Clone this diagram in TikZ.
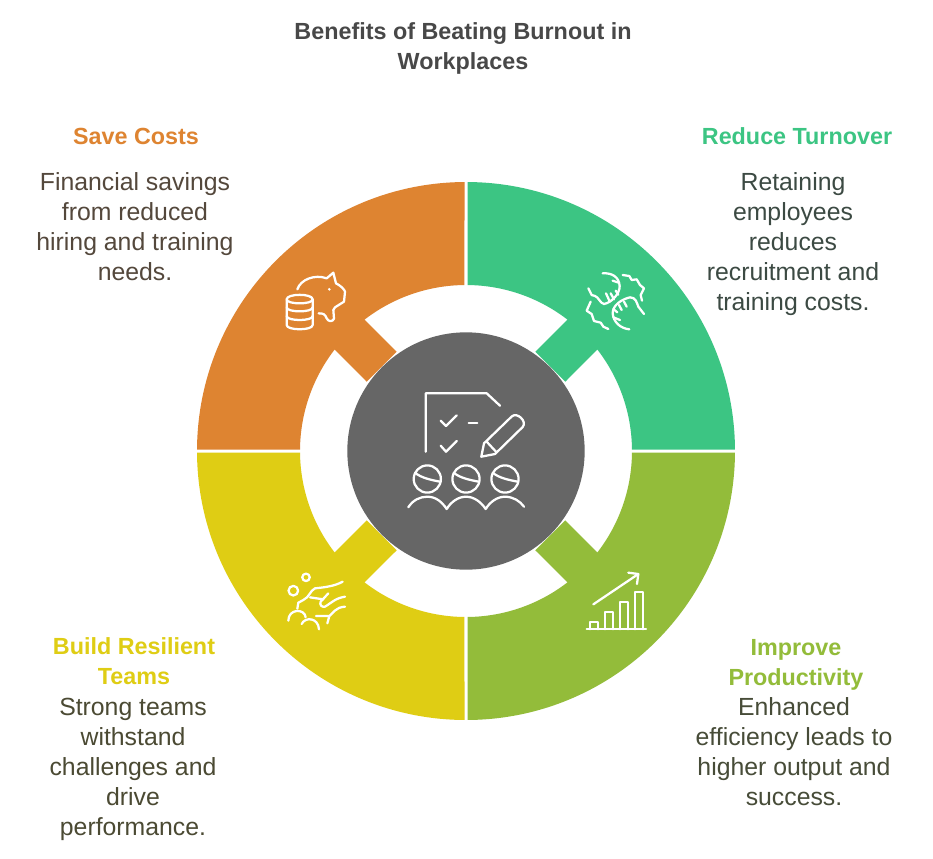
\documentclass[tikz,border=0pt]{standalone}
\usepackage{fontspec}
\setmainfont{Liberation Sans}
\definecolor{cOrange}{HTML}{DE8431}
\definecolor{cGreen}{HTML}{3CC583}
\definecolor{cLime}{HTML}{93BC3A}
\definecolor{cYellow}{HTML}{DFCD14}
\definecolor{cGrey}{HTML}{666666}
\definecolor{cText}{HTML}{484848}
\definecolor{bOrange}{HTML}{54483C}
\definecolor{bGreen}{HTML}{3C4A43}
\definecolor{bLime}{HTML}{474C38}
\definecolor{bYellow}{HTML}{4B4A33}
\newcommand{\sectorpath}{(89.68:269) arc[start angle=89.68,end angle=0.32,radius=201.75pt]
  -- (0.52:166) arc[start angle=0.52,end angle=37.7,radius=124.5pt]
  -- (99.3,69.3) -- (69.3,99.3) -- (52.3:166) arc[start angle=52.3,end angle=89.48,radius=124.5pt] -- cycle}
\tikzset{
 px/.style={x=0.75pt,y=-0.75pt},
 bodytext/.style={font=\fontsize{18.6pt}{22.5pt}\selectfont,align=center,inner sep=0pt},
 headtext/.style={font=\fontsize{17.5pt}{22.5pt}\selectfont\bfseries,align=center,inner sep=0pt},
 titletext/.style={font=\fontsize{17.5pt}{22.5pt}\selectfont\bfseries,align=center,text=cText,inner sep=0pt},
 icon/.style={draw=white,line width=1.7pt,line cap=round,line join=round},
}
\begin{document}
\begin{tikzpicture}[px]
\useasboundingbox (0,0) rectangle (933,858);
\fill[white] (0,0) rectangle (933,858);
% sectors
\begin{scope}[shift={(466,451)},x=.75pt,y=.75pt]
 \fill[cGreen] \sectorpath;
 \fill[cOrange,rotate=90] \sectorpath;
 \fill[cYellow,rotate=180] \sectorpath;
 \fill[cLime,rotate=270] \sectorpath;
\end{scope}
\node[circle,fill=cGrey,minimum size=178pt,inner sep=0pt] (hub) at (466,451) {};
% centre icon
\draw[icon] (425.7,451.7) -- (425.7,393.3) -- (486.7,393.3) -- (500,405.7);
\draw[icon] (440.7,420.7) -- (446,426) -- (456.7,415.3);
\draw[icon] (468.7,423.3) -- (477.3,423.3);
\draw[icon] (440.7,445.7) -- (446,451.7) -- (456.7,441);
\draw[icon] (481.3,456.7) -- (484,443.3) -- (511.7,416.5) .. controls (517,411.5) and (527.5,421.5) .. (522.7,427) -- (495,454) -- cycle;
\draw[icon] (486.7,441.7) -- (496,451.7);
\foreach \cx in {427.3,466,505}{
 \draw[icon] (\cx,479) circle[radius=10.2pt];
 \draw[icon] (\cx-12.3,472.7) .. controls (\cx-6,478) and (\cx+4,480) .. (\cx+12.8,481.7);
}
\draw[icon] (408.3,507.3) .. controls (413,500) and (420,496.7) .. (427.3,496.7) .. controls (436,496.7) and (442,502) .. (446.7,509)
  .. controls (451,502) and (458,496.7) .. (466,496.7) .. controls (474,496.7) and (481,502) .. (485.7,509)
  .. controls (490,502) and (497,496.7) .. (505,496.7) .. controls (513,496.7) and (520,501) .. (524,506.7);
% piggy bank icon
\begin{scope}[shift={(270,260)},x=.25pt,y=-.25pt]
 \draw[icon] (50,118) .. controls (50,100) and (128,100) .. (128,118) -- (128,195) .. controls (128,212) and (50,212) .. (50,195) -- cycle;
 \draw[icon] (50,118) .. controls (50,134) and (128,134) .. (128,118);
 \draw[icon] (50,142) .. controls (50,158) and (128,158) .. (128,142);
 \draw[icon] (50,168) .. controls (50,184) and (128,184) .. (128,168);
 \draw[icon] (82,88) .. controls (92,58) and (135,42) .. (170,55) -- (190,38) -- (198,70) .. controls (210,75) and (225,90) .. (225,95) -- (222,125) -- (195,142) -- (190,150) -- (192,176) .. controls (188,186) and (175,186) .. (170,175) .. controls (165,162) and (160,160) .. (146,160);
 \fill[white] (178,88) circle[radius=1.1pt];
\end{scope}
% hands icon
\begin{scope}[shift={(570,260)},x=.25pt,y=-.25pt]
 \draw[icon] (98,40) .. controls (125,38) and (147,50) .. (149,78) .. controls (150,100) and (125,128) .. (102,132) .. controls (90,130) and (85,110) .. (75,108) -- (65,105) -- (55,85);
 \draw[icon] (128,62) -- (146,68);
 \draw[icon] (108,100) -- (118,122);
 \draw[icon] (122,100) -- (132,118);
 \draw[icon] (137,92) -- (145,104);
 \draw[icon] (158,45) -- (178,48) -- (185,60) -- (200,58) -- (210,75) -- (222,85) -- (212,105) -- (216,122);
 \draw[icon] (178,208) .. controls (150,205) and (130,185) .. (128,160) .. controls (128,135) and (155,118) .. (180,112) .. controls (198,112) and (200,128) .. (205,140) -- (222,162);
 \draw[icon] (130,172) -- (150,180);
 \draw[icon] (130,147) -- (142,157);
 \draw[icon] (147,135) -- (155,150);
 \draw[icon] (162,125) -- (170,140);
 \draw[icon] (62,125) -- (50,152) -- (65,162) -- (72,183) -- (92,188) -- (100,200) -- (115,207);
\end{scope}
% resilience icon
\begin{scope}[shift={(270,560)},x=.25pt,y=-.25pt]
 \draw[icon] (108,52) circle[radius=2.8pt];
 \draw[icon] (70,92) circle[radius=3.6pt];
 \draw[icon] (218,65) .. controls (195,78) and (165,82) .. (135,85) .. controls (120,92) and (118,112) .. (100,120) -- (85,128) -- (82,146);
 \draw[icon] (120,112) -- (160,118);
 \draw[icon] (175,100) -- (152,125) .. controls (148,135) and (155,142) .. (165,140) .. controls (185,128) and (195,115) .. (225,110);
 \draw[icon] (55,182) .. controls (55,145) and (105,145) .. (107,172);
 \draw[icon] (95,192) .. controls (105,170) and (145,172) .. (147,208);
 \draw[icon] (138,168) -- (178,168) -- (172,190);
 \draw[icon] (178,168) .. controls (190,160) and (195,142) .. (225,140);
\end{scope}
% chart icon
\begin{scope}[shift={(575,560)},x=.25pt,y=-.25pt]
 \draw[icon] (35,208) -- (213,208);
 \draw[icon] (45,208) -- (45,185) -- (68,185) -- (68,208);
 \draw[icon] (90,208) -- (90,155) -- (113,155) -- (113,208);
 \draw[icon] (135,208) -- (135,125) -- (158,125) -- (158,208);
 \draw[icon] (180,208) -- (180,95) -- (203,95) -- (203,208);
 \draw[icon] (55,133) -- (190,42);
 \draw[icon] (160,38) -- (190,42) -- (186,72);
\end{scope}
% text
\node[titletext] (title) at (463,48.5) {Benefits of Beating Burnout in\\Workplaces};
\node[headtext,text=cOrange] (h1) at (136,136.5) {Save Costs};
\node[bodytext,text=bOrange] (b1) at (135,227) {Financial savings\\from reduced\\hiring and training\\needs.};
\node[headtext,text=cGreen] (h2) at (797,136) {Reduce Turnover};
\node[bodytext,text=bGreen] (b2) at (793,244) {Retaining\\employees\\reduces\\recruitment and\\training costs.};
\node[headtext,text=cYellow] (h3) at (134,661) {Build Resilient\\Teams};
\node[bodytext,text=bYellow] (b3) at (133,769) {Strong teams\\withstand\\challenges and\\drive\\performance.};
\node[headtext,text=cLime] (h4) at (796,665) {Improve\\Productivity};
\node[bodytext,text=bLime] (b4) at (794,752) {Enhanced\\efficiency leads to\\higher output and\\success.};
\end{tikzpicture}
\end{document}
